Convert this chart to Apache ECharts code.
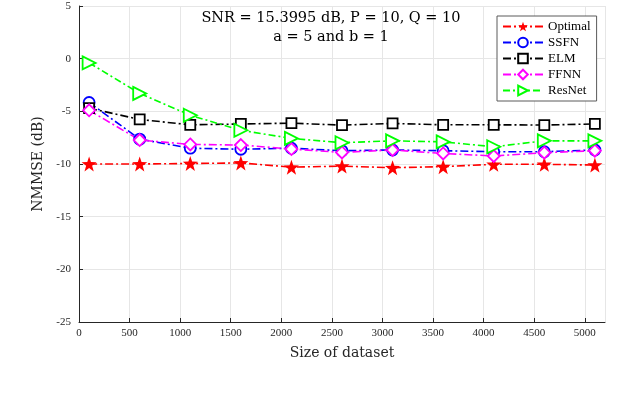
<!DOCTYPE html>
<html>
<head>
<meta charset="utf-8">
<script src="https://cdn.jsdelivr.net/npm/echarts@6/dist/echarts.min.js"></script>
<style>
html,body{margin:0;padding:0;background:#fff;}
#chart{width:640px;height:394px;}
</style>
</head>
<body>
<div id="chart"></div>
<script>
const datasetSizes = [100, 600, 1100, 1600, 2100, 2600, 3100, 3600, 4100, 4600, 5100];
const optimal = [-10.0, -10.0, -9.95, -9.9, -10.3, -10.2, -10.35, -10.25, -10.03, -10.03, -10.1];
const ssfn    = [-4.16, -7.64, -8.5, -8.6, -8.5, -8.74, -8.67, -8.74, -8.83, -8.83, -8.67];
const elm     = [-4.7, -5.77, -6.28, -6.2, -6.12, -6.31, -6.15, -6.28, -6.28, -6.3, -6.2];
const ffnn    = [-4.9, -7.73, -8.14, -8.2, -8.58, -8.9, -8.67, -9.0, -9.24, -8.93, -8.74];
const resnet  = [-0.4, -3.3, -5.37, -6.8, -7.57, -7.98, -7.8, -7.9, -8.36, -7.8, -7.8];
const seriesNames = ['Optimal', 'SSFN', 'ELM', 'FFNN', 'ResNet'];
const titleLines = ['SNR = 15.3995 dB, P = 10, Q = 10', 'a = 5 and b = 1'];

const FONT = '"Liberation Serif", "DejaVu Serif", serif';
const WFONT = '"DejaVu Serif", "Liberation Serif", serif';
const STAR = 'path://M0,-10L2.35,-3.24L9.51,-3.09L3.8,1.24L5.88,8.09L0,4L-5.88,8.09L-3.8,1.24L-9.51,-3.09L-2.35,-3.24Z';
const TRI = 'path://M0,0L10,5L0,10Z';

function pairs(vals){ return datasetSizes.map((x,i)=>[x, vals[i]]); }

function mk(name, vals, color, symbol, size, filled, dash){
  return {
    name, type:'line', data: pairs(vals),
    symbol, symbolSize: size, showSymbol:true,
    lineStyle:{color, width:1.6, type: dash},
    itemStyle:{color: filled ? color : '#ffffff', borderColor: color, borderWidth: filled ? 0 : 1.8},
    emphasis:{disabled:true}, animation:false
  };
}

const chart = echarts.init(document.getElementById('chart'), null, {renderer:'canvas'});
chart.setOption({
  backgroundColor:'#fff',
  animation:false,
  grid:{left:79, right:35, top:6, bottom:72, containLabel:false},
  xAxis:{
    type:'value', min:0, max:5200, interval:500,
    name:'Size of dataset', nameLocation:'middle', nameGap:24,
    nameTextStyle:{fontFamily:WFONT, fontSize:14, color:'#262626'},
    axisLine:{show:true, onZero:false, lineStyle:{color:'#262626', width:1}},
    axisTick:{show:true, inside:true, length:4, lineStyle:{color:'#262626'}},
    axisLabel:{fontFamily:FONT, fontSize:11, color:'#262626', margin:6, showMaxLabel:false,
      formatter:(v)=> v % 500 === 0 ? String(v) : ''},
    splitLine:{show:true, lineStyle:{color:'#e6e6e6', width:1}}
  },
  yAxis:{
    type:'value', min:-25, max:5, interval:5,
    name:'NMMSE (dB)', nameLocation:'middle', nameGap:32,
    nameTextStyle:{fontFamily:WFONT, fontSize:14, color:'#262626'},
    axisLine:{show:true, onZero:false, lineStyle:{color:'#262626', width:1}},
    axisTick:{show:true, inside:true, length:4, lineStyle:{color:'#262626'}},
    axisLabel:{fontFamily:FONT, fontSize:11, color:'#262626', margin:8},
    splitLine:{show:true, lineStyle:{color:'#e6e6e6', width:1}}
  },
  legend:{
    orient:'vertical', left:497, top:16,
    itemWidth:40, itemHeight:12, itemGap:3,
    padding:[4,6,4,5],
    backgroundColor:'#fff', borderColor:'#5a5a5a', borderWidth:1,
    textStyle:{fontFamily:FONT, fontSize:13, color:'#000'},
    data: seriesNames
  },
  graphic:[
    {type:'text', position:[331,18], z:10, style:{text:titleLines[0], x:0, y:0, textAlign:'center', textVerticalAlign:'middle', font:'14.5px '+WFONT, fill:'#000'}},
    {type:'text', position:[331,37], z:10, style:{text:titleLines[1], x:0, y:0, textAlign:'center', textVerticalAlign:'middle', font:'14.5px '+WFONT, fill:'#000'}}
  ],
  series:[
    mk(seriesNames[0], optimal, '#ff0000', STAR, 15, true, [8,3,2,3]),
    mk(seriesNames[1], ssfn, '#0000ff', 'circle', 11, false, [8,3,2,3]),
    mk(seriesNames[2], elm, '#000000', 'rect', 10, false, [8,3,2,3]),
    mk(seriesNames[3], ffnn, '#ff00ff', 'diamond', 12, false, [8,3,2,3]),
    mk(seriesNames[4], resnet, '#00ff00', TRI, 13, false, [7,3,2,3])
  ]
});
</script>
</body>
</html>
